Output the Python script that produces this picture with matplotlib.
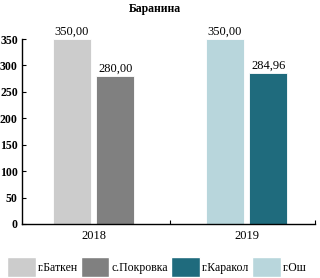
import matplotlib
matplotlib.use("Agg")
import matplotlib.pyplot as plt
from matplotlib.patches import Patch

years = ["2018", "2019"]
series = ["г.Баткен", "с.Покровка", "г.Каракол", "г.Ош"]
# values per year (None = no bar)
batken = [350.00, None]
pokrovka = [280.00, None]
karakol = [None, 284.96]
osh = [None, 350.00]
colors = {"г.Баткен": "#cccccc", "с.Покровка": "#808080",
          "г.Каракол": "#1f6b7d", "г.Ош": "#b8d6dc"}
yticks = [0, 50, 100, 150, 200, 250, 300, 350]

plt.rcParams['font.family'] = ['Liberation Serif', 'DejaVu Serif']
plt.rcParams['font.size'] = 8.5

fig = plt.figure(figsize=(3.2, 2.78), dpi=100)
ax = fig.add_axes([22/320, (278-224)/278, (315-22)/320, (224-39)/278])

w = 0.248
off = 0.142
# 2018: Баткен left, Покровка right; 2019: Ош left, Каракол right
groups = [(0, [("г.Баткен", batken[0]), ("с.Покровка", pokrovka[0])]),
          (1, [("г.Ош", osh[1]), ("г.Каракол", karakol[1])])]
for xi, pair in groups:
    for k, (name, v) in enumerate(pair):
        x = xi - off if k == 0 else xi + off
        ax.bar(x, v, width=w, color=colors[name], edgecolor="white", linewidth=0.6)
        ax.text(x, v + 3, f"{v:.2f}".replace(".", ","), ha="center", va="bottom",
                fontsize=9)

ax.set_xlim(-0.467, 1.448)
ax.set_ylim(0, 350)
ax.set_yticks(yticks)
ax.tick_params(axis='y', direction='in', length=3, pad=3, labelsize=8.5)
for lab in ax.get_yticklabels():
    lab.set_fontweight("bold")
ax.set_xticks([0.5, 1.445])
ax.set_xticklabels([])
ax.set_xticks([0, 1], minor=True)
ax.set_xticklabels(years, minor=True, fontsize=9)
ax.tick_params(axis='x', which='major', direction='in', length=3)
ax.tick_params(axis='x', which='minor', length=0, pad=4)
for s in ["top", "right"]:
    ax.spines[s].set_visible(False)
ax.spines["left"].set_linewidth(1.0)
ax.spines["bottom"].set_linewidth(1.0)

fig.text(0.485, 1 - 9/278, "Баранина", ha="center", va="center",
         fontsize=8.5, fontweight="bold")

handles = [Patch(facecolor=colors[s], edgecolor="white") for s in series]
fig.legend(handles, series, loc="center", bbox_to_anchor=(0.49, 0.04), ncol=4,
           frameon=False, handlelength=2.4, handleheight=2.2, handletextpad=0.15,
           columnspacing=0.3, borderaxespad=0, borderpad=0,
           prop={"size": 8.5})

fig.savefig("out.png", dpi=100)
